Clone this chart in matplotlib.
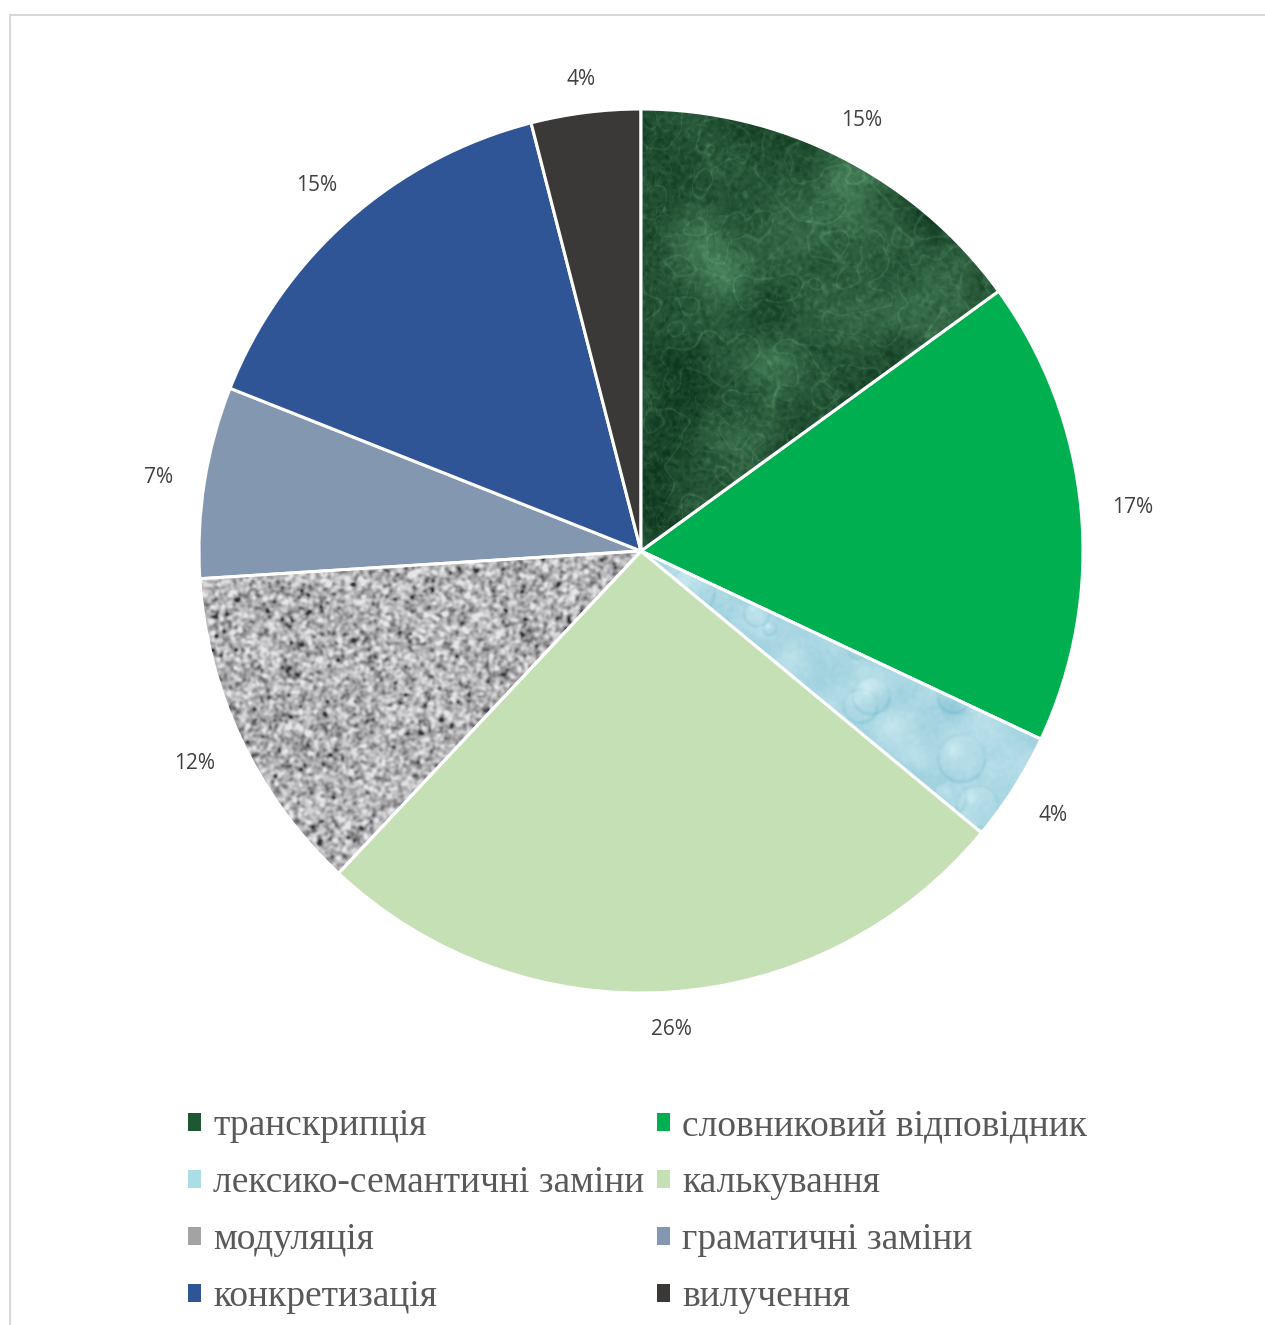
import matplotlib.pyplot as plt
import numpy as np
from matplotlib.patches import Wedge, Rectangle

categories = ['транскрипція', 'словниковий відповідник', 'лексико-семантичні заміни',
              'калькування', 'модуляція', 'граматичні заміни', 'конкретизація', 'вилучення']
shares = [15, 17, 4, 26, 12, 7, 15, 4]
colors = ['#1f5634', '#00b050', '#aadde6', '#c5e0b4', '#a3a3a3', '#8497b0', '#2f5597', '#3b3838']

W, H = 1265, 1325
R_PX = 442
fig = plt.figure(figsize=(W / 100, H / 100), dpi=100)
ax = fig.add_axes([199 / W, 1 - 993 / H, 884 / W, 884 / H])


def smooth(a, sigma):
    # gaussian blur done in the frequency domain
    ny, nx = a.shape
    ky = np.fft.fftfreq(ny)[:, None]
    kx = np.fft.fftfreq(nx)[None, :]
    g = np.exp(-2 * (np.pi * sigma) ** 2 * (kx ** 2 + ky ** 2))
    return np.real(np.fft.ifft2(np.fft.fft2(a) * g))


def norm(a):
    return (a - a.min()) / (a.max() - a.min())


def blend(t, c0, c1):
    c0 = np.array(c0) / 255.0
    c1 = np.array(c1) / 255.0
    return c0 + t[..., None] * (c1 - c0)


rng = np.random.default_rng(7)
n = 900
yy, xx = np.mgrid[0:n, 0:n]

# green marble: cloudy patches plus a web of thin veins
blot = norm(smooth(rng.standard_normal((n, n)), 20))
v1 = smooth(rng.standard_normal((n, n)), 8)
v2 = smooth(rng.standard_normal((n, n)), 3)
veins = (np.exp(-(v1 / (0.10 * v1.std())) ** 2) * 0.5
         + np.exp(-(v2 / (0.15 * v2.std())) ** 2) * 0.35)
grain = norm(smooth(rng.standard_normal((n, n)), 1.5))
t = np.clip(0.6 * blot ** 1.5 + 0.3 * veins + 0.35 * grain - 0.13, 0, 1)
marble = blend(t, (14, 55, 30), (120, 192, 142))

# light blue surface with water drops
w = norm(smooth(rng.standard_normal((n, n)), 10))
w2 = norm(smooth(rng.standard_normal((n, n)), 1.5))
shade = 0.6 * w + 0.25 * w2
for cx, cy, rad in zip(rng.uniform(0, n, 220), rng.uniform(0, n, 220), rng.uniform(5, 24, 220)):
    sl = (slice(int(max(cy - rad - 3, 0)), int(cy + rad + 3)),
          slice(int(max(cx - rad - 3, 0)), int(cx + rad + 3)))
    dx = xx[sl] - cx
    dy = yy[sl] - cy
    d = np.hypot(dx, dy)
    inside = d < rad
    # darker rim on the lower side, light glint near the top
    shade[sl] -= 0.18 * np.exp(-((d - rad) / 1.8) ** 2) * (0.5 + 0.5 * (dy > 0))
    shade[sl] += 0.18 * inside * np.exp(-((dx + 0.3 * rad) ** 2 + (dy + 0.4 * rad) ** 2) / (0.12 * rad ** 2))
    shade[sl] -= 0.08 * inside * (dy / rad)
water = blend(np.clip(shade, 0, 1), (135, 195, 212), (222, 245, 249))

# grey granite
gr = norm(smooth(rng.standard_normal((n, n)), 1.6))
gr = np.clip((gr - 0.2) / 0.55, 0, 1) ** 0.6
granite = blend(gr, (55, 55, 58), (230, 230, 233))

textures = {0: marble, 2: water, 4: granite}

wedges, texts, autotexts = ax.pie(
    shares, colors=colors, startangle=90, counterclock=False, radius=1,
    autopct='%1.0f%%', pctdistance=1.1,
    wedgeprops=dict(edgecolor='white', linewidth=2.2),
    textprops=dict(fontsize=15, color='#404040', family='Open Sans'))

for i, img in textures.items():
    wg = wedges[i]
    im = ax.imshow(img, extent=(-1.02, 1.02, -1.02, 1.02), zorder=wg.get_zorder() + 0.1,
                   interpolation='bilinear')
    im.set_clip_path(wg)
    ax.add_patch(Wedge(wg.center, wg.r, wg.theta1, wg.theta2, facecolor='none',
                       edgecolor='white', linewidth=2.2, zorder=wg.get_zorder() + 0.2))

ax.set_xlim(-1, 1)
ax.set_ylim(-1, 1)
ax.set_aspect('equal')
ax.axis('off')

# push each percentage just outside the rim, clear of its own box
fig.canvas.draw()
renderer = fig.canvas.get_renderer()
gap = 27
for wg, txt in zip(wedges, autotexts):
    txt.set_verticalalignment('center_baseline')
    ang = np.deg2rad((wg.theta1 + wg.theta2) / 2)
    bb = txt.get_window_extent(renderer)
    ext = abs(np.cos(ang)) * (bb.width / 2 + 4) + abs(np.sin(ang)) * 0.3 * bb.height
    r = (R_PX + gap + ext) / R_PX
    txt.set_position((r * np.cos(ang), r * np.sin(ang)))

# legend filled row by row
order = [0, 2, 4, 6, 1, 3, 5, 7]
leg = fig.legend([wedges[i] for i in order], [categories[i] for i in order],
                 ncol=2, loc='upper left', bbox_to_anchor=(169 / W, 1 - 1090 / H),
                 frameon=False, borderpad=0, handlelength=0.36, handleheight=0.36,
                 handletextpad=0.32, columnspacing=0.32, labelspacing=0.6,
                 prop=dict(family='Liberation Serif', size=27))
for txt in leg.get_texts():
    txt.set_color('#595959')
for h in leg.legend_handles:
    h.set_edgecolor('none')

fig.add_artist(Rectangle((9.5 / W, -0.05), 1.2, 1.05 - 14.5 / H, transform=fig.transFigure,
                         fill=False, edgecolor='#d9d9d9', linewidth=1.5))

fig.savefig('out.png', dpi=100, facecolor='white')
